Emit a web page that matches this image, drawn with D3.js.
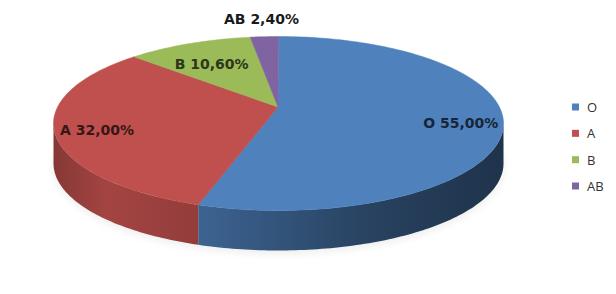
<!DOCTYPE html>
<html>
<head>
<meta charset="utf-8">
<script src="https://cdn.jsdelivr.net/npm/d3@7"></script>
<style>
  body { margin: 0; background: #fff; }
  svg { display: block; }
</style>
</head>
<body>
<svg id="chart" width="616" height="294"></svg>
<script>
// blood groups
const categories = ["O", "A", "B", "AB"];
const values = [55.0, 32.0, 10.6, 2.4];
const colors = ["#4f81bd", "#c0504d", "#9bbb59", "#8064a2"];

const svg = d3.select("#chart"),
    width = +svg.attr("width"),
    height = +svg.attr("height");

// outline ellipse of the top face, the (perspective) centre of the pie, wall height
const cx = 278.5, cy = 123.5, rx = 225, ry = 87, depth = 40;
const apex = [278, 107];
const skew = 0.164; // angle distortion from perspective

const locale = d3.formatLocale({ decimal: ",", thousands: ".", grouping: [3], currency: ["", ""] });
const fmt = locale.format(".2f");

const pie = d3.pie().sort(null).value(d => d.value);
const arcs = pie(categories.map((c, i) => ({ name: c, value: values[i], color: colors[i] })));

// pie angle -> angle on the projected ellipse
const proj = a => a - skew * Math.sin(a);

function pt(t, dy = 0, k = 1) {
    return [cx + rx * k * Math.sin(t), cy - ry * k * Math.cos(t) + dy];
}

function rim(t0, t1, dy = 0) {
    const n = Math.max(2, Math.ceil((t1 - t0) / 0.02));
    return d3.range(n + 1).map(j => pt(t0 + (t1 - t0) * j / n, dy));
}

const line = d3.line();
const defs = svg.append("defs");

// soft shadow under the pie
defs.append("filter").attr("id", "blur")
    .attr("x", "-20%").attr("y", "-50%").attr("width", "140%").attr("height", "200%")
    .append("feGaussianBlur").attr("stdDeviation", 4);

svg.append("path")
    .attr("d", line(rim(0, Math.PI * 2, depth + 3)) + "Z")
    .attr("fill", "#000").attr("opacity", 0.07)
    .attr("filter", "url(#blur)");

// side gradients
arcs.forEach((d, i) => {
    const g = defs.append("linearGradient")
        .attr("id", "side" + i)
        .attr("gradientUnits", "userSpaceOnUse")
        .attr("x1", cx - rx).attr("x2", cx + rx)
        .attr("y1", 0).attr("y2", 0);
    [[0, 1.0], [0.12, 0.45], [0.35, 0.8], [0.7, 1.9], [1, 2.6]].forEach(s => {
        g.append("stop").attr("offset", s[0]).attr("stop-color", d3.color(d.data.color).darker(s[1]));
    });
});

// outer wall: only the front half of the ellipse is visible
const sides = svg.append("g");
arcs.forEach((d, i) => {
    const t0 = Math.max(proj(d.startAngle), Math.PI / 2);
    const t1 = Math.min(proj(d.endAngle), Math.PI * 3 / 2);
    if (t1 <= t0) return;
    const pts = rim(t0, t1).concat(rim(t0, t1, depth).reverse());
    sides.append("path")
        .attr("d", line(pts) + "Z")
        .attr("fill", `url(#side${i})`);
});

// top face
const tops = svg.append("g");
arcs.forEach(d => {
    const pts = [apex].concat(rim(proj(d.startAngle), proj(d.endAngle)));
    tops.append("path")
        .attr("d", line(pts) + "Z")
        .attr("fill", d.data.color)
        .attr("stroke", d.data.color)
        .attr("stroke-width", 0.5);
});

// data labels
svg.append("g").selectAll("text")
    .data(arcs)
    .join("text")
    .each(function (d) {
        const share = (d.endAngle - d.startAngle) / (2 * Math.PI);
        const mid = proj((d.startAngle + d.endAngle) / 2);
        const outside = share < 0.05;
        const k = outside ? 1.2 : (share > 0.2 ? 0.81 : 0.75);
        const p = pt(mid, 0, k);
        d3.select(this)
            .attr("x", p[0]).attr("y", p[1])
            .attr("fill", outside ? "#1a1a1a" : d3.color(d.data.color).darker(3.5));
    })
    .attr("text-anchor", "middle")
    .attr("dominant-baseline", "central")
    .attr("font-family", "DejaVu Sans, sans-serif")
    .attr("font-weight", "bold")
    .attr("font-size", 14)
    .text(d => `${d.data.name} ${fmt(d.data.value)}%`);

// legend
const legendY = d3.scalePoint().domain(categories).range([107, 186]);
const legend = svg.append("g").selectAll("g")
    .data(arcs)
    .join("g")
    .attr("transform", d => `translate(572,${legendY(d.data.name)})`);

legend.append("rect")
    .attr("x", 0).attr("y", -3.5)
    .attr("width", 7).attr("height", 7)
    .attr("fill", d => d.data.color);

legend.append("text")
    .attr("x", 15).attr("y", 0)
    .attr("dominant-baseline", "central")
    .attr("font-family", "Open Sans, sans-serif")
    .attr("font-size", 13)
    .attr("fill", "#333")
    .text(d => d.data.name);
</script>
</body>
</html>
